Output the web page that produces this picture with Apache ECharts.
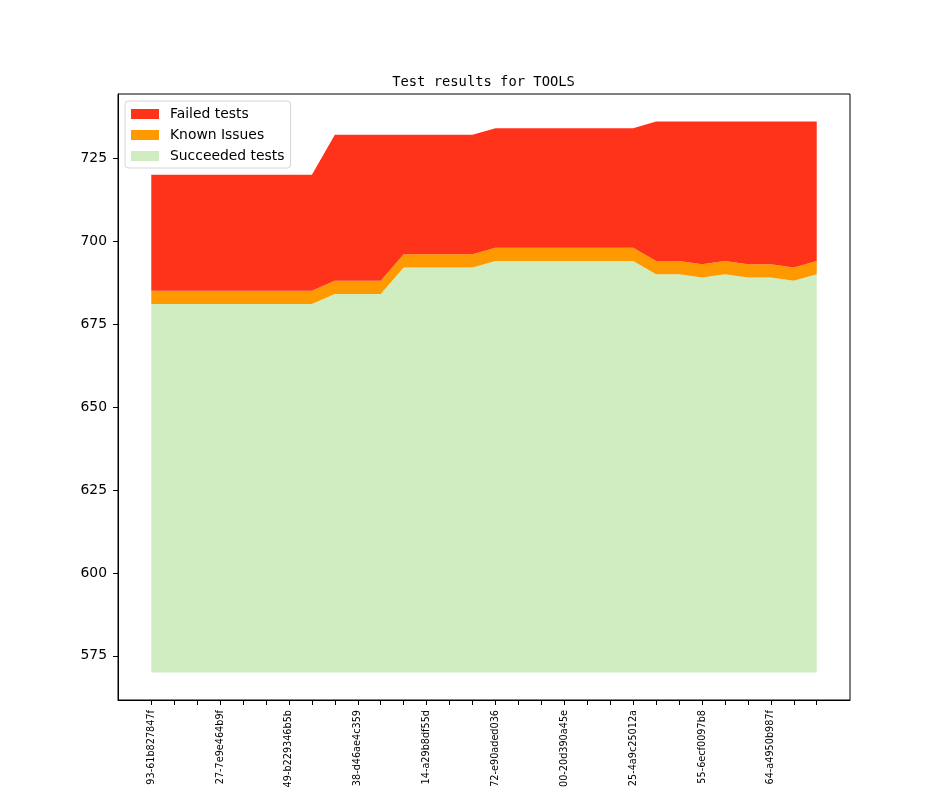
<!DOCTYPE html>
<html>
<head>
<meta charset="utf-8">
<script src="https://cdn.jsdelivr.net/npm/echarts@6/dist/echarts.min.js"></script>
<style>
  html, body {margin: 0; padding: 0; background: #fff;}
  #chart {width: 944px; height: 787px;}
</style>
</head>
<body>
<div id="chart"></div>
<script>
// values, one per build (30 builds)
const succeeded = [681, 681, 681, 681, 681, 681, 681, 681, 684, 684, 684, 692, 692, 692, 692,
    694, 694, 694, 694, 694, 694, 694, 690, 690, 689, 690, 689, 689, 688, 690];
const knownIssues = [4, 4, 4, 4, 4, 4, 4, 4, 4, 4, 4, 4, 4, 4, 4,
    4, 4, 4, 4, 4, 4, 4, 4, 4, 4, 4, 4, 4, 4, 4];
const failed = [35, 35, 35, 35, 35, 35, 35, 35, 44, 44, 44, 36, 36, 36, 36,
    36, 36, 36, 36, 36, 36, 36, 42, 42, 43, 42, 43, 43, 44, 42];
const baseline = 570;

// only every third build is labelled
const tickLabels = ['93-61b827847f', '27-7e9e464b9f', '49-b229346b5b', '38-d46ae4c359', '14-a29b8df55d',
    '72-e90aded036', '00-20d390a45e', '25-4a9c25012a', '55-6ecf0097b8', '64-a4950b987f'];
const yTicks = [575, 600, 625, 650, 675, 700, 725];

const labelPos = tickLabels.map((t, i) => i * 3);
const allPos = succeeded.map((v, i) => i);

// 5% margins like matplotlib
const topMax = Math.max(...succeeded.map((v, i) => v + knownIssues[i] + failed[i]));
const yPad = (topMax - baseline) * 0.05;
const xPad = (succeeded.length - 1) * 0.05;

const chart = echarts.init(document.getElementById('chart'));

// data as [value, index] so the stack runs on y
const layer = (name, values, color) => ({
    name: name,
    type: 'line',
    stack: 'all',
    encode: {x: 1, y: 0},
    symbol: 'none',
    lineStyle: {width: 0},
    areaStyle: color ? {color: color, opacity: 1} : null,
    itemStyle: {color: color || 'transparent'},
    data: values.map((v, i) => [v, i]),
    silent: true
});

chart.setOption({
    animation: false,
    title: {
        text: 'Test results for TOOLS',
        left: 478.5,
        top: 70,
        textAlign: 'center',
        textStyle: {fontFamily: 'DejaVu Sans Mono', fontWeight: 'normal', fontSize: 13.8, color: '#000'}
    },
    legend: {
        orient: 'vertical',
        left: 125,
        top: 101,
        padding: [6, 6, 5, 6],
        itemWidth: 28,
        itemHeight: 10,
        itemGap: 7,
        icon: 'rect',
        backgroundColor: '#fff',
        borderColor: '#d6d6d6',
        borderWidth: 1,
        borderRadius: 3,
        textStyle: {fontFamily: 'DejaVu Sans', fontSize: 13.9, color: '#000', padding: [0, 0, 0, 6]},
        data: ['Failed tests', 'Known Issues', 'Succeeded tests']
    },
    grid: {
        left: 118, right: 94, top: 94, bottom: 87,
        outerBoundsMode: 'none',
        show: true, borderColor: '#000', borderWidth: 1, backgroundColor: 'transparent'
    },
    xAxis: {
        type: 'value',
        min: -xPad,
        max: succeeded.length - 1 + xPad,
        axisLine: {show: true, onZero: false, lineStyle: {color: '#000'}},
        axisTick: {show: true, length: 5, lineStyle: {color: '#000'}, customValues: allPos},
        axisLabel: {
            rotate: 90,
            margin: 10,
            fontFamily: 'DejaVu Sans',
            fontSize: 9.7,
            color: '#000',
            customValues: labelPos,
            formatter: v => tickLabels[Math.round(v) / 3] || ''
        },
        splitLine: {show: false}
    },
    yAxis: {
        type: 'value',
        min: baseline - yPad,
        max: topMax + yPad,
        axisLine: {show: true, onZero: false, lineStyle: {color: '#000'}},
        axisTick: {show: true, length: 5, lineStyle: {color: '#000'}, customValues: yTicks},
        axisLabel: {margin: 11, fontFamily: 'DejaVu Sans', fontSize: 13.9, color: '#000', customValues: yTicks},
        splitLine: {show: false}
    },
    series: [
        layer('base', succeeded.map(() => baseline), null),
        layer('Succeeded tests', succeeded.map(v => v - baseline), '#cfedc0'),
        layer('Known Issues', knownIssues, '#ff9900'),
        layer('Failed tests', failed, '#ff331a')
    ]
});
</script>
</body>
</html>
